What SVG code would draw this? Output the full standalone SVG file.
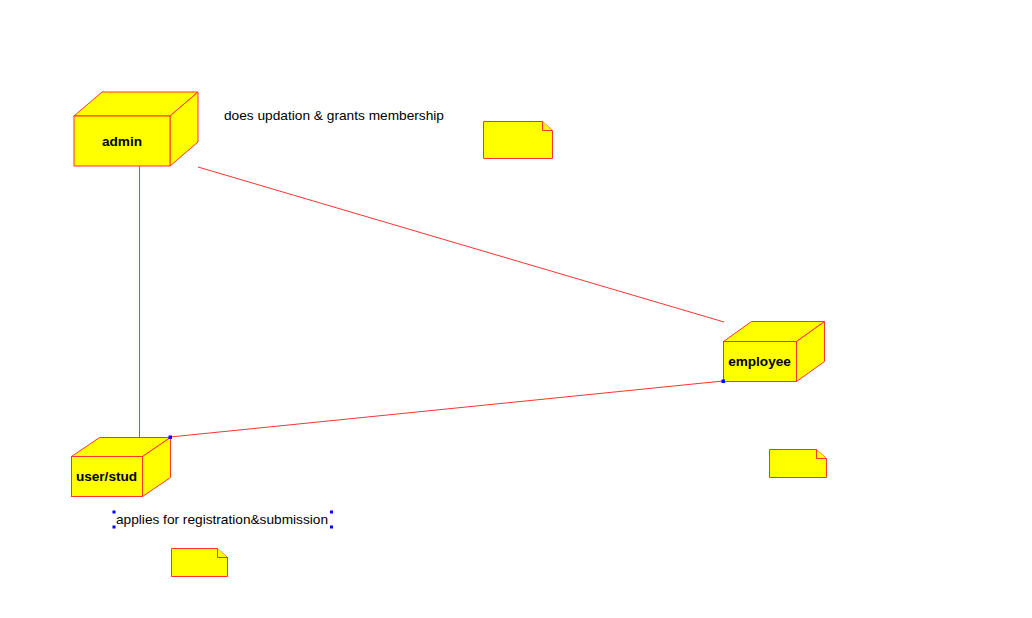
<svg xmlns="http://www.w3.org/2000/svg" width="1032" height="618" viewBox="0 0 1032 618">
<style>
.face{fill:#ffff00;stroke:#ff3333;stroke-width:1}
.lbl{font-family:"Liberation Sans",Arial,sans-serif;font-size:13.6px;font-weight:bold;fill:#000}
.txt{font-family:"Liberation Sans",Arial,sans-serif;font-size:13px;fill:#000}
.conn{stroke:#ff3333;stroke-width:1;fill:none}
.h{fill:#0000ff}
</style>
<rect width="1032" height="618" fill="#fff"/>
<g id="admin">
<polygon class="face" points="74,116 102,92 198,92 170,116"/>
<polygon class="face" points="170,116 198,92 198,142 170,166"/>
<rect class="face" x="74" y="116" width="96" height="50"/>
<text class="lbl" x="122" y="146" text-anchor="middle">admin</text>
</g>
<g id="employee">
<polygon class="face" points="723.5,341.5 751.5,321.5 824.5,321.5 796.5,341.5"/>
<polygon class="face" points="796.5,341.5 824.5,321.5 824.5,361.5 796.5,381.5"/>
<rect class="face" x="723.5" y="341.5" width="73" height="40"/>
<text class="lbl" x="759.5" y="366" text-anchor="middle">employee</text>
</g>
<g id="user_stud">
<polygon class="face" points="71.5,456.5 99.5,437.5 170.5,437.5 142.5,456.5"/>
<polygon class="face" points="142.5,456.5 170.5,437.5 170.5,477.5 142.5,496.5"/>
<rect class="face" x="71.5" y="456.5" width="71" height="40"/>
<text class="lbl" x="106.5" y="481" text-anchor="middle">user/stud</text>
</g>
<g id="note_admin">
<polygon class="face" points="483.5,121.5 542.5,121.5 552.5,130.5 552.5,158.5 483.5,158.5"/>
<polyline class="face" points="542.5,121.5 542.5,130.5 552.5,130.5"/>
<text class="txt" x="224" y="120" textLength="220" lengthAdjust="spacingAndGlyphs">does updation &amp; grants membership</text>
</g>
<g id="note_employee">
<polygon class="face" points="769.5,449.5 816.5,449.5 826.5,458.5 826.5,477.5 769.5,477.5"/>
<polyline class="face" points="816.5,449.5 816.5,458.5 826.5,458.5"/>
</g>
<g id="note_user">
<polygon class="face" points="171.5,548.5 217.5,548.5 227.5,557.5 227.5,576.5 171.5,576.5"/>
<polyline class="face" points="217.5,548.5 217.5,557.5 227.5,557.5"/>
<text class="txt" x="116" y="524" textLength="212" lengthAdjust="spacingAndGlyphs">applies for registration&amp;submission</text>
<rect class="h" x="112.5" y="510.5" width="3" height="3"/>
<rect class="h" x="112.5" y="525.5" width="3" height="3"/>
<rect class="h" x="330" y="510.5" width="3" height="3"/>
<rect class="h" x="330" y="525.5" width="3" height="3"/>
</g>
<g id="connectors">
<line class="conn" x1="139.5" y1="166.5" x2="139.5" y2="437"/>
<line class="conn" x1="198" y1="167" x2="724" y2="322"/>
<line class="conn" x1="723" y1="381" x2="170" y2="437"/>
<rect class="h" x="168.5" y="435.5" width="3.5" height="3.5"/>
<rect class="h" x="721.5" y="379.5" width="3.5" height="3.5"/>
</g>
</svg>
